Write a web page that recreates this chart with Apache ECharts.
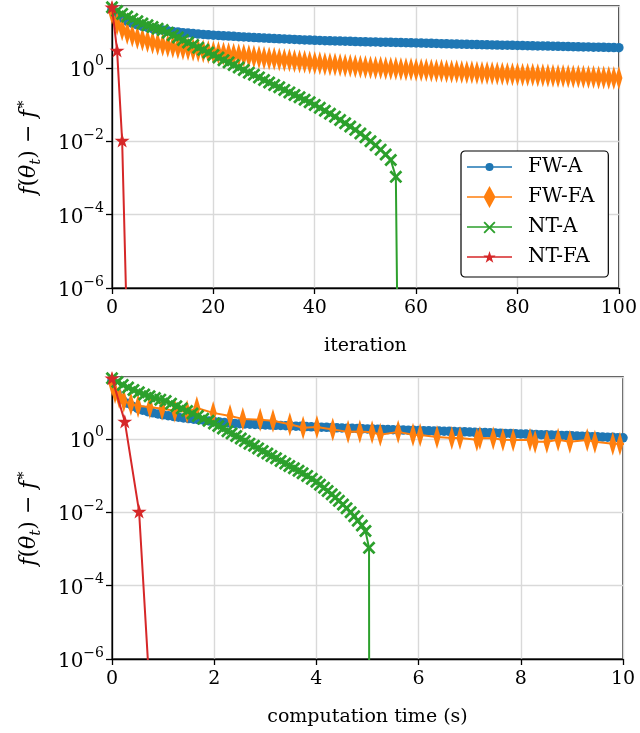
<!DOCTYPE html>
<html><head><meta charset="utf-8">
<script src="https://cdn.jsdelivr.net/npm/echarts@6/dist/echarts.min.js"></script>
<style>html,body{margin:0;padding:0;background:#fff}#c{width:640px;height:733px}</style>
</head><body><div id="c"></div><script>
// ---------- data ----------
const seriesNames = ['FW-A', 'FW-FA', 'NT-A', 'NT-FA'];

// top panel: value vs iteration (x = index)
const fwaIterVals = [39.8, 28.2, 22.4, 18.6, 16.2, 14.8, 13.5, 12.6, 11.7, 11.2,
 10.7, 10.2, 9.77, 9.55, 9.12, 8.91, 8.61, 8.32, 8.13, 7.94,
 7.76, 7.62, 7.48, 7.35, 7.21, 7.08, 6.95, 6.82, 6.70, 6.58,
 6.46, 6.37, 6.28, 6.19, 6.11, 6.03, 5.94, 5.86, 5.78, 5.70,
 5.62, 5.57, 5.52, 5.47, 5.42, 5.37, 5.32, 5.27, 5.22, 5.18,
 5.13, 5.09, 5.06, 5.02, 4.99, 4.95, 4.92, 4.89, 4.85, 4.82,
 4.79, 4.74, 4.70, 4.66, 4.61, 4.57, 4.53, 4.49, 4.45, 4.41,
 4.37, 4.34, 4.31, 4.28, 4.25, 4.22, 4.19, 4.16, 4.13, 4.10,
 4.07, 4.05, 4.02, 3.99, 3.96, 3.94, 3.91, 3.88, 3.85, 3.83,
 3.80, 3.78, 3.75, 3.72, 3.70, 3.67, 3.65, 3.62, 3.60, 3.57,
 3.55];
const fwfaIterVals = [31.6, 15.8, 11.2, 8.91, 7.59, 6.61, 5.89, 5.37, 4.90, 4.57,
 4.27, 4.03, 3.80, 3.59, 3.39, 3.24, 3.09, 2.95, 2.82, 2.72,
 2.63, 2.54, 2.45, 2.40, 2.29, 2.21, 2.18, 2.07, 2.00, 1.95,
 1.86, 1.80, 1.77, 1.69, 1.64, 1.61, 1.53, 1.49, 1.46, 1.39,
 1.35, 1.33, 1.28, 1.25, 1.24, 1.19, 1.16, 1.15, 1.10, 1.07,
 1.06, 1.03, 1.01, 1.00, 0.982, 0.966, 0.960, 0.935, 0.920, 0.912,
 0.891, 0.877, 0.870, 0.849, 0.836, 0.830, 0.809, 0.796, 0.790, 0.771,
 0.759, 0.755, 0.738, 0.728, 0.725, 0.708, 0.698, 0.695, 0.679, 0.670,
 0.668, 0.653, 0.646, 0.644, 0.631, 0.624, 0.622, 0.610, 0.603, 0.600,
 0.589, 0.582, 0.580, 0.569, 0.562, 0.560, 0.550, 0.543, 0.541, 0.531,
 0.525];
const ntaVals = [44.7, 35.5, 29.5, 25.1, 21.4, 18.6, 16.2, 14.5, 12.9, 11.7,
 10.7, 9.12, 7.76, 6.76, 5.75, 4.90, 4.17, 3.55, 3.09, 2.63,
 2.24, 1.91, 1.62, 1.41, 1.20, 1.02, 0.871, 0.741, 0.646, 0.550,
 0.468, 0.398, 0.339, 0.295, 0.251, 0.214, 0.182, 0.158, 0.135, 0.115,
 0.0977, 0.0813, 0.0676, 0.0562, 0.0468, 0.0380, 0.0309, 0.0251, 0.0204, 0.0162,
 0.0129, 0.0100, 0.00776, 0.00589, 0.00437, 0.00309, 0.00107, 1e-16];
const ntfaVals = [45, 3.0, 0.0105, 4e-8];

// bottom panel: value vs computation time (s)
const fwaTimes = [0, 0.1, 0.2, 0.3, 0.4, 0.5, 0.6, 0.7, 0.8, 0.9,
 1.0, 1.1, 1.2, 1.3, 1.4, 1.5, 1.6, 1.7, 1.8, 1.9,
 2.0, 2.1, 2.2, 2.3, 2.4, 2.5, 2.6, 2.7, 2.8, 2.9,
 3.0, 3.1, 3.2, 3.3, 3.4, 3.5, 3.6, 3.7, 3.8, 3.9,
 4.0, 4.1, 4.2, 4.3, 4.4, 4.5, 4.6, 4.7, 4.8, 4.9,
 5.0, 5.1, 5.2, 5.3, 5.4, 5.5, 5.6, 5.7, 5.8, 5.9,
 6.0, 6.1, 6.2, 6.3, 6.4, 6.5, 6.6, 6.7, 6.8, 6.9,
 7.0, 7.1, 7.2, 7.3, 7.4, 7.5, 7.6, 7.7, 7.8, 7.9,
 8.0, 8.1, 8.2, 8.3, 8.4, 8.5, 8.6, 8.7, 8.8, 8.9,
 9.0, 9.1, 9.2, 9.3, 9.4, 9.5, 9.6, 9.7, 9.8, 9.9,
 10.0];
const fwaTimeVals = [39.8, 17.8, 12.0, 9.33, 7.76, 6.76, 6.03, 5.50, 5.13, 4.79,
 4.52, 4.29, 4.07, 3.89, 3.72, 3.57, 3.44, 3.31, 3.18, 3.07,
 2.95, 2.86, 2.79, 2.70, 2.63, 2.59, 2.55, 2.51, 2.47, 2.44,
 2.40, 2.37, 2.34, 2.31, 2.28, 2.24, 2.22, 2.19, 2.16, 2.13,
 2.11, 2.08, 2.06, 2.03, 2.00, 1.98, 1.95, 1.93, 1.91, 1.88,
 1.86, 1.85, 1.83, 1.81, 1.79, 1.77, 1.76, 1.74, 1.72, 1.71,
 1.69, 1.67, 1.66, 1.64, 1.63, 1.61, 1.60, 1.58, 1.56, 1.55,
 1.53, 1.51, 1.50, 1.48, 1.46, 1.45, 1.43, 1.41, 1.40, 1.38,
 1.36, 1.35, 1.33, 1.32, 1.30, 1.29, 1.27, 1.26, 1.24, 1.23,
 1.21, 1.20, 1.18, 1.17, 1.15, 1.14, 1.12, 1.11, 1.10, 1.08,
 1.07];
const fwfaTimes = [0, 0.06, 0.14, 0.23, 0.37, 0.51, 0.74, 0.98, 1.23, 1.47,
 1.66, 1.98, 2.31, 2.56, 2.90, 3.15, 3.48, 3.74, 4.01, 4.32,
 4.62, 4.85, 5.09, 5.25, 5.60, 5.89, 6.03, 6.36, 6.65, 6.81,
 7.14, 7.20, 7.46, 7.65, 7.85, 8.18, 8.28, 8.51, 8.73, 8.96,
 9.30, 9.45, 9.80, 9.94, 10.25];
const fwfaTimeVals = [31.6, 19.0, 13.9, 10.9, 8.9, 7.9, 7.4, 6.6, 5.8, 5.5,
 6.9, 5.1, 4.2, 3.5, 3.3, 3.1, 2.5, 2.0, 2.1, 1.8,
 1.55, 1.58, 1.52, 1.29, 1.55, 1.29, 1.27, 1.13, 1.06, 1.06,
 0.94, 1.06, 1.04, 0.94, 0.93, 0.94, 0.83, 0.83, 0.94, 0.83,
 0.93, 0.83, 0.73, 0.73, 0.72];
const ntaTimes = [0, 0.105, 0.21, 0.315, 0.42, 0.525, 0.63, 0.735, 0.84, 0.945,
 1.05, 1.155, 1.26, 1.365, 1.47, 1.575, 1.68, 1.785, 1.89, 1.995,
 2.08, 2.17, 2.26, 2.34, 2.43, 2.52, 2.60, 2.69, 2.78, 2.86,
 2.95, 3.04, 3.12, 3.21, 3.30, 3.39, 3.47, 3.56, 3.65, 3.73,
 3.82, 3.91, 4.00, 4.07, 4.15, 4.22, 4.30, 4.37, 4.44, 4.52,
 4.59, 4.67, 4.74, 4.81, 4.89, 4.96, 5.03, 5.04];
const ntfaTimes = [0, 0.25, 0.53, 0.76];

// axis settings
const iterAxis = {min: 0, max: 100, interval: 20, name: 'iteration'};
const timeAxis = {min: 0, max: 10, interval: 2, name: 'computation time (s)'};
const yMin = 1e-6, yMax = 48.5;

// ---------- styling ----------
const FONT = 'DejaVu Serif';
const FS = 19;
const COLORS = ['#1f77b4', '#ff7f0e', '#2ca02c', '#d62728'];
const SYM_DIAMOND = 'path://M6,0L12,11L6,22L0,11Z';
const SYM_X = 'path://M0,1.8L1.8,0L6,4.2L10.2,0L12,1.8L7.8,6L12,10.2L10.2,12L6,7.8L1.8,12L0,10.2L4.2,6Z';
const SYM_STAR = 'path://M10,0L12.245,6.91L19.51,6.91L13.63,11.18L15.88,18.09L10,13.82L4.12,18.09L6.37,11.18L0.49,6.91L7.755,6.91Z';
const SYMBOLS = ['circle', SYM_DIAMOND, SYM_X, SYM_STAR];
const SIZES = [9.5, [13, 24], 13, 15];

// legend icons: line + marker in a 56x22 box (line 45 long)
const BOX = 'M0,0L0.01,0L0,0.01Z M56,22L55.99,22L56,21.99Z ';
const LINE = 'M0,10.2L45,10.2L45,11.8L0,11.8Z ';
const LEG_ICONS = [
  'path://' + BOX + LINE + 'M26.5,11A4,4,0,1,1,18.5,11A4,4,0,1,1,26.5,11Z',
  'path://' + BOX + LINE + 'M22.5,0L28.5,11L22.5,22L16.5,11Z',
  'path://' + BOX + LINE + 'M16.5,6.8L17.8,5.5L22.5,10.2L27.2,5.5L28.5,6.8L23.8,11.5L28.5,16.2L27.2,17.5L22.5,12.8L17.8,17.5L16.5,16.2L21.2,11.5Z',
  'path://' + BOX + LINE + 'M22.5,4.9L23.96,9.39L28.68,9.39L24.86,12.17L26.32,16.66L22.5,13.88L18.68,16.66L20.14,12.17L16.32,9.39L21.04,9.39Z'
];

const gridLine = {show: true, lineStyle: {color: '#d9d9d9', width: 1.4}};
const blackLine = {color: '#000', width: 1.3};

function xAxisOf(gi, ax) {
  return {
    type: 'value', gridIndex: gi, min: ax.min, max: ax.max, interval: ax.interval,
    name: ax.name, nameLocation: 'middle', nameGap: 49,
    nameTextStyle: {fontFamily: FONT, fontSize: FS, color: '#000'},
    axisLine: {show: true, lineStyle: blackLine},
    axisTick: {show: true, length: 6, lineStyle: blackLine},
    axisLabel: {fontFamily: FONT, fontSize: FS, color: '#000', margin: 11},
    splitLine: gridLine
  };
}
function yAxisOf(gi) {
  return {
    type: 'log', logBase: 100, gridIndex: gi, min: yMin, max: yMax,
    name: '{i|f}{n|(}{i|θ}{sub|t}{n|) − }{i|f}{sup|∗}',
    nameLocation: 'middle', nameGap: 68, nameRotate: 90,
    nameTextStyle: {
      rich: {
        i: {fontFamily: FONT, fontStyle: 'italic', fontSize: 22, lineHeight: 30, color: '#000'},
        n: {fontFamily: FONT, fontSize: 22, lineHeight: 30, color: '#000'},
        sub: {fontFamily: FONT, fontStyle: 'italic', fontSize: 15, lineHeight: 15, verticalAlign: 'bottom', color: '#000'},
        sup: {fontFamily: FONT, fontSize: 15, lineHeight: 15, verticalAlign: 'top', color: '#000'}
      }
    },
    axisLine: {show: true, lineStyle: blackLine},
    axisTick: {show: true, length: 6, lineStyle: blackLine},
    axisLabel: {
      margin: 8, showMaxLabel: false,
      formatter: function (v) {
        const e = Math.log10(v);
        if (Math.abs(e - Math.round(e)) > 1e-6) return '';
        const r = Math.round(e);
        return '{b|10}{s|' + (r < 0 ? '−' + (-r) : String(r)) + '}';
      },
      rich: {
        b: {fontFamily: FONT, fontSize: 20, lineHeight: 26, verticalAlign: 'bottom', color: '#000'},
        s: {fontFamily: FONT, fontSize: 14, lineHeight: 14, verticalAlign: 'top', color: '#000'}
      }
    },
    splitLine: gridLine,
    minorTick: {show: false}, minorSplitLine: {show: false}
  };
}

function lineSeries(k, gi, xs, ys) {
  return {
    name: seriesNames[k], type: 'line', xAxisIndex: gi, yAxisIndex: gi,
    data: ys.map((v, i) => [xs ? xs[i] : i, v]),
    symbol: SYMBOLS[k], symbolSize: SIZES[k], symbolKeepAspect: true,
    showSymbol: true, showAllSymbol: true, clip: true,
    lineStyle: {color: COLORS[k], width: 2},
    itemStyle: {color: COLORS[k], borderWidth: 0},
    emphasis: {disabled: true}, z: 2 + k
  };
}

const chart = echarts.init(document.getElementById('c'), null, {renderer: 'canvas'});
chart.setOption({
  animation: false,
  backgroundColor: '#fff',
  grid: [
    {left: 112, right: 17, top: 6, height: 282, show: true, borderColor: '#000', borderWidth: 1.3, backgroundColor: 'transparent'},
    {left: 112, right: 17, top: 377, height: 282, show: true, borderColor: '#000', borderWidth: 1.3, backgroundColor: 'transparent'}
  ],
  xAxis: [xAxisOf(0, iterAxis), xAxisOf(1, timeAxis)],
  yAxis: [yAxisOf(0), yAxisOf(1)],
  legend: {
    selectedMode: false, orient: 'vertical', left: 461, top: 151,
    itemWidth: 56, itemHeight: 22, itemGap: 8, padding: [5, 14, 9, 6],
    backgroundColor: '#fff', borderColor: '#000', borderWidth: 1.2, borderRadius: 4,
    textStyle: {fontFamily: FONT, fontSize: 20, color: '#000', lineHeight: 22},
    data: seriesNames.map((n, k) => ({name: n, icon: LEG_ICONS[k]}))
  },
  series: [
    lineSeries(0, 0, null, fwaIterVals),
    lineSeries(1, 0, null, fwfaIterVals),
    lineSeries(2, 0, null, ntaVals),
    lineSeries(3, 0, null, ntfaVals),
    lineSeries(0, 1, fwaTimes, fwaTimeVals),
    lineSeries(1, 1, fwfaTimes, fwfaTimeVals),
    lineSeries(2, 1, ntaTimes, ntaVals),
    lineSeries(3, 1, ntfaTimes, ntfaVals)
  ]
});
</script></body></html>
